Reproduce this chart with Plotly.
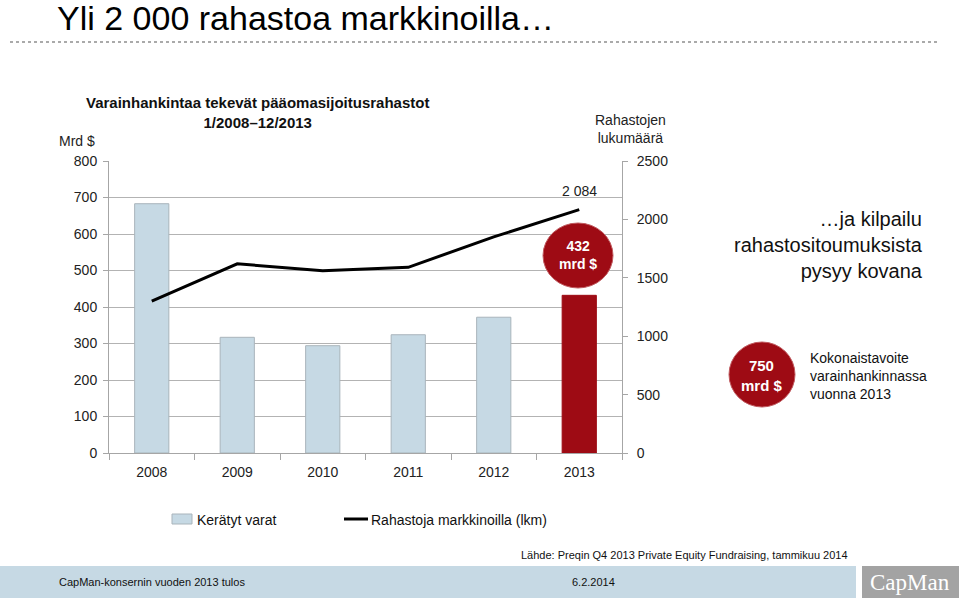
import plotly.graph_objects as go

years = ["2008", "2009", "2010", "2011", "2012", "2013"]
raised = [683, 317, 294, 324, 372, 432]          # Kerätyt varat, mrd $
funds = [1300, 1620, 1560, 1590, 1850, 2084]     # Rahastoja markkinoilla (lkm)
bar_colors = ["#c6d9e4"] * 5 + ["#9e0b14"]
left_ticks = [0, 100, 200, 300, 400, 500, 600, 700, 800]
right_ticks = [0, 500, 1000, 1500, 2000, 2500]
series_names = ["Kerätyt varat", "Rahastoja markkinoilla (lkm)"]

FONT = "Liberation Sans, Arial, sans-serif"
NARROW = "Liberation Sans Narrow, Arial Narrow, Liberation Sans, Arial, sans-serif"

W, H = 959, 598
L, R, T, B = 109, 622, 161, 453

fig = go.Figure()
fig.add_trace(go.Bar(
    x=years, y=raised, name=series_names[0],
    marker=dict(color=bar_colors, line=dict(color=["#a9b4bb"] * 5 + ["#9e0b14"], width=1)),
    width=0.4, yaxis="y", showlegend=False,
))
fig.add_trace(go.Scatter(
    x=years, y=funds, name=series_names[1],
    mode="lines", line=dict(color="black", width=3), yaxis="y2", showlegend=False,
))

def px(x):
    return (x - L) / (R - L)

def py(y):
    return (B - y) / (B - T)

ann = []
shapes = []

# Title
ann.append(dict(x=px(55), y=py(0), xref="paper", yref="paper", text="Yli 2 000 rahastoa markkinoilla…",
                showarrow=False, xanchor="left", yanchor="top", height=32, valign="middle",
                font=dict(family=NARROW, size=34, color="black")))
# dotted line under title
shapes.append(dict(type="line", xref="paper", yref="paper", x0=px(10), x1=px(938), y0=py(42), y1=py(42),
                   line=dict(color="#aaaaaa", width=2, dash="dot")))

# chart title
ann.append(dict(x=px(257), y=py(112), xref="paper", yref="paper",
                text="<b>Varainhankintaa tekevät pääomasijoitusrahastot<br>1/2008–12/2013</b>",
                showarrow=False, xanchor="center", yanchor="middle",
                font=dict(family=FONT, size=15, color="#111")))
ann.append(dict(x=px(97), y=py(141), xref="paper", yref="paper", text="Mrd $",
                showarrow=False, xanchor="right", yanchor="middle",
                font=dict(family=FONT, size=14, color="#222")))
ann.append(dict(x=px(630), y=py(129), xref="paper", yref="paper", text="Rahastojen<br>lukumäärä",
                showarrow=False, xanchor="center", yanchor="middle",
                font=dict(family=FONT, size=14, color="#222")))

# data label for last line point
ann.append(dict(x=len(years) - 1, y=funds[-1], xref="x", yref="y2",
                text=f"{funds[-1]:,}".replace(",", " "),
                showarrow=False, yshift=9, xanchor="center", yanchor="bottom",
                font=dict(family=FONT, size=14, color="#222")))

# red circle 432 mrd $
shapes.append(dict(type="circle", xref="paper", yref="paper", x0=px(543), x1=px(613), y0=py(223), y1=py(288),
                   fillcolor="#9e0b14", line=dict(color="#c05a5f", width=1)))
ann.append(dict(x=px(578), y=py(255), xref="paper", yref="paper", text="<b>" + str(raised[-1]) + "<br>mrd $</b>",
                showarrow=False, xanchor="center", yanchor="middle",
                font=dict(family=FONT, size=14, color="white")))

# right side texts
ann.append(dict(x=px(925), y=py(245), xref="paper", yref="paper",
                text="…ja kilpailu<br>rahastositoumuksista<br>pysyy kovana",
                showarrow=False, xanchor="right", yanchor="middle", align="right",
                font=dict(family=FONT, size=20, color="#111")))
shapes.append(dict(type="circle", xref="paper", yref="paper", x0=px(729), x1=px(795), y0=py(342), y1=py(407),
                   fillcolor="#9e0b14", line=dict(color="#c05a5f", width=1)))
ann.append(dict(x=px(762), y=py(375), xref="paper", yref="paper", text="<b>750<br>mrd $</b>",
                showarrow=False, xanchor="center", yanchor="middle",
                font=dict(family=FONT, size=15, color="white")))
ann.append(dict(x=px(808), y=py(376), xref="paper", yref="paper",
                text="Kokonaistavoite<br>varainhankinnassa<br>vuonna 2013",
                showarrow=False, xanchor="left", yanchor="middle", align="left",
                font=dict(family=FONT, size=14, color="#111")))

# legend (drawn manually)
shapes.append(dict(type="rect", xref="paper", yref="paper", x0=px(172), x1=px(192), y0=py(524), y1=py(514),
                   fillcolor="#c6d9e4", line=dict(color="#a9b4bb", width=1)))
ann.append(dict(x=px(195), y=py(520), xref="paper", yref="paper", text=series_names[0],
                showarrow=False, xanchor="left", yanchor="middle",
                font=dict(family=FONT, size=14, color="#111")))
shapes.append(dict(type="line", xref="paper", yref="paper", x0=px(344), x1=px(368), y0=py(519), y1=py(519),
                   line=dict(color="black", width=3)))
ann.append(dict(x=px(369), y=py(520), xref="paper", yref="paper", text=series_names[1],
                showarrow=False, xanchor="left", yanchor="middle",
                font=dict(family=FONT, size=14, color="#111")))

# footer
ann.append(dict(x=px(850), y=py(555), xref="paper", yref="paper",
                text="Lähde: Preqin Q4 2013 Private Equity Fundraising, tammikuu 2014",
                showarrow=False, xanchor="right", yanchor="middle",
                font=dict(family=NARROW, size=11, color="#111")))
shapes.append(dict(type="rect", xref="paper", yref="paper", x0=px(0), x1=px(856), y0=py(598), y1=py(566),
                   fillcolor="#c6d9e4", line=dict(width=0), layer="below"))
shapes.append(dict(type="rect", xref="paper", yref="paper", x0=px(862), x1=px(959), y0=py(598), y1=py(566),
                   fillcolor="#a3a3a3", line=dict(width=0), layer="below"))
ann.append(dict(x=px(57), y=py(582), xref="paper", yref="paper", text="CapMan-konsernin vuoden 2013 tulos",
                showarrow=False, xanchor="left", yanchor="middle",
                font=dict(family=NARROW, size=11, color="#111")))
ann.append(dict(x=px(593), y=py(582), xref="paper", yref="paper", text="6.2.2014",
                showarrow=False, xanchor="center", yanchor="middle",
                font=dict(family=NARROW, size=11, color="#111")))
ann.append(dict(x=px(910), y=py(582), xref="paper", yref="paper", text="CapMan",
                showarrow=False, xanchor="center", yanchor="middle",
                font=dict(family="Liberation Serif, Times New Roman, serif", size=23, color="white")))

fig.update_layout(
    width=W, height=H,
    margin=dict(l=L, r=W - R, t=T, b=H - B, pad=0),
    paper_bgcolor="white", plot_bgcolor="white",
    showlegend=False,
    xaxis=dict(type="category", range=[-0.5, len(years) - 0.5], showline=True, linecolor="#a6a6a6", linewidth=1,
               ticks="outside", tickson="boundaries", ticklen=6, tickcolor="#a6a6a6",
               tickfont=dict(family=FONT, size=14, color="#222"), showgrid=False,
               ticklabelstandoff=6),
    yaxis=dict(range=[0, 800], tickvals=left_ticks, showline=True, linecolor="#a6a6a6",
               ticks="outside", ticklen=5, tickcolor="#a6a6a6", showgrid=True, gridcolor="#b3b3b3",
               gridwidth=1, zeroline=False, tickfont=dict(family=FONT, size=14, color="#222"),
               ticklabelstandoff=3),
    yaxis2=dict(range=[0, 2500], tickvals=right_ticks, overlaying="y", side="right", showline=True,
                linecolor="#a6a6a6", ticks="outside", ticklen=5, tickcolor="#a6a6a6", showgrid=False,
                zeroline=False, tickfont=dict(family=FONT, size=14, color="#222"),
                ticklabelstandoff=6),
    annotations=ann, shapes=shapes,
)

fig.write_html("out.html", config={"displayModeBar": False},
               post_script="document.body.style.margin='0';")
